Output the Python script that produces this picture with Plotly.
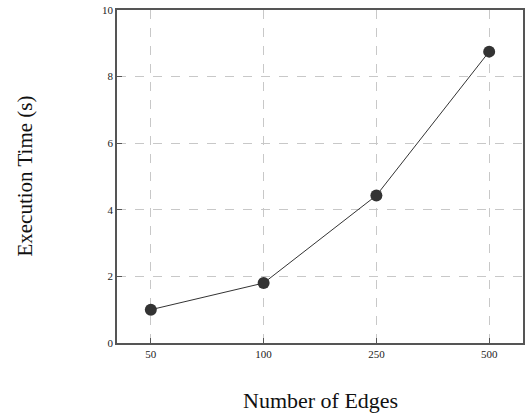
import plotly.graph_objects as go

edges = ["50", "100", "250", "500"]
times = [1.0, 1.8, 4.43, 8.75]
y_ticks = [0, 2, 4, 6, 8, 10]

font_family = "Liberation Serif, DejaVu Serif, serif"

fig = go.Figure()
fig.add_trace(go.Scatter(
    x=edges, y=times, mode="lines+markers",
    line=dict(color="#333333", width=1),
    marker=dict(color="#333333", size=12),
    showlegend=False,
))

axis_common = dict(
    showgrid=True, gridcolor="#c8c8c8", griddash="dash", gridwidth=1,
    showline=True, linecolor="#555555", linewidth=1.5, mirror=True,
    ticks="inside", ticklen=5, tickcolor="#555555",
    tickfont=dict(size=11, family=font_family, color="#222222"),
    zeroline=False, automargin=False,
)

fig.update_layout(
    width=526, height=417,
    margin=dict(l=117, r=3, t=10, b=74),
    paper_bgcolor="white", plot_bgcolor="white",
    font=dict(family=font_family, color="#222222"),
    annotations=[
        dict(text="Number of Edges", xref="paper", yref="paper",
             x=0.5, y=-0.174, xanchor="center", yanchor="middle",
             showarrow=False, font=dict(size=22, family=font_family, color="#111111")),
        dict(text="Execution Time (s)", xref="paper", yref="paper",
             x=-0.229, y=0.5, xanchor="center", yanchor="middle", textangle=-90,
             showarrow=False, font=dict(size=21, family=font_family, color="#111111")),
    ],
)
fig.update_xaxes(type="category", range=[-0.3, 3.3], **axis_common)
fig.update_yaxes(range=[0, 10], tickvals=y_ticks, **axis_common)

fig.write_html(
    "out.html",
    config={"displayModeBar": False},
    post_script="document.body.style.margin='0';document.body.style.padding='0';",
)
